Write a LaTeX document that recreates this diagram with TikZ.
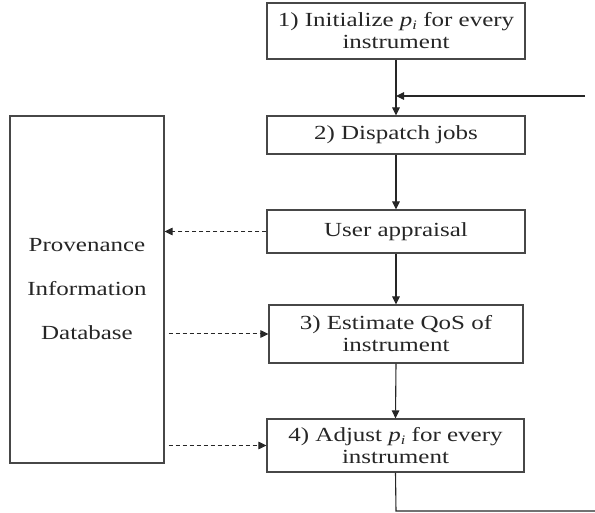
\documentclass[tikz,border=0pt]{standalone}
\usepackage{graphicx}
\usepackage{fontspec}
\setmainfont{Liberation Serif}
\newfontfamily\itfont{Liberation Serif Italic}
\usetikzlibrary{arrows.meta}
\newcommand{\wl}[1]{\scalebox{1.25}[1]{#1}}
\newcommand{\pisub}{\wl{\itfont p}\raisebox{-3pt}{\wl{\fontsize{13}{13}\itfont i}}}
\begin{document}
\begin{tikzpicture}[x=1pt,y=-1pt,
  box/.style={draw=black!72,line width=1.1pt,minimum width=258pt,inner sep=0pt,
    align=center,text=black!85,font=\fontsize{20}{22}\selectfont},
  flow/.style={draw=black!85,line width=1.1pt,-{Triangle[length=8pt,width=7.5pt]}},
  dflow/.style={flow,line width=1pt,dash pattern=on 4pt off 3pt}]
\useasboundingbox (0,0) rectangle (595,513);
\node[box,minimum height=56pt] (b1) at (396,31) {\wl{1) Initialize\ }\pisub\wl{\ for every}\\\wl{instrument}};
\node[box,minimum height=38pt] (b2) at (396,135) {\wl{2) Dispatch jobs}};
\node[box,minimum height=43pt] (ua) at (396,231.5) {\wl{User appraisal}};
\node[box,minimum height=58pt,minimum width=254pt] (b3) at (396,334) {\wl{3) Estimate QoS of}\\\wl{instrument}};
\node[box,minimum height=53pt,minimum width=257pt] (b4) at (395.5,445.5) {\wl{4) Adjust\ }\pisub\wl{\ for every}\\\wl{instrument}};
\node[box,minimum height=347pt,minimum width=154pt,font=\fontsize{20}{44}\selectfont] (db) at (87,289.5) {\wl{Provenance}\\\wl{Information}\\\wl{Database}};
\coordinate (fb) at (585,96);
\coordinate (fbend) at (396,96);
\coordinate (lowc) at (396,511);
\coordinate (lowe) at (595,511);
\draw[flow] (b1.south) -- (b2.north);
\draw[flow] (fb) -- (fbend);
\draw[flow] (b2.south) -- (ua.north);
\draw[dflow] (ua.west) -- (db.east |- ua.west);
\draw[flow] (ua.south) -- (b3.north);
\draw[dflow] ([xshift=4pt]db.east |- b3.west) -- (b3.west);
\draw[flow] (b3.south) -- (b4.north);
\draw[dflow] ([xshift=4pt]db.east |- b4.west) -- (b4.west);
\draw[draw=black!85,line width=1.1pt] (b4.south) -- (lowc) -- (lowe);
\end{tikzpicture}
\end{document}
